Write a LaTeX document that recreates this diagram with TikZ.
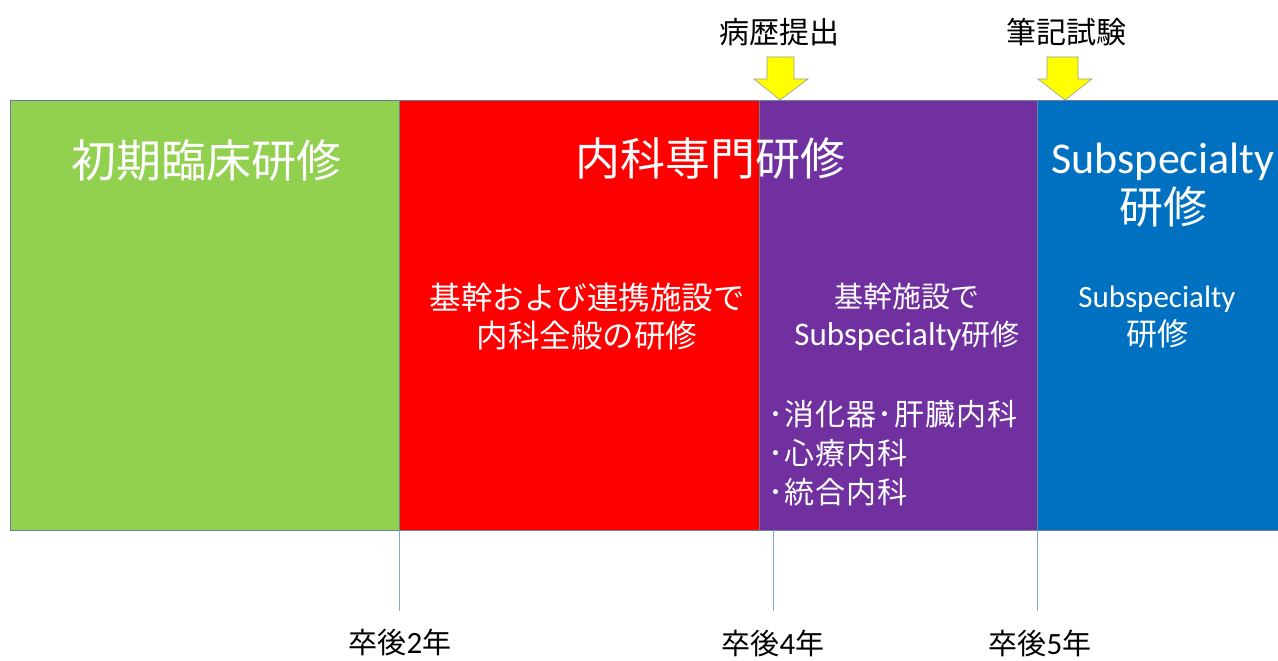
\documentclass[tikz,border=0pt]{standalone}
\usepackage{fontspec}
\setmainfont{Noto Sans CJK JP}
\newfontfamily\lat{Carlito}
\definecolor{cgreen}{HTML}{92D050}
\definecolor{cred}{HTML}{FF0000}
\definecolor{cpurple}{HTML}{7030A0}
\definecolor{cblue}{HTML}{0070C0}
\definecolor{cedge}{HTML}{6A7F9A}
\definecolor{ctick}{HTML}{7FA8D0}
\definecolor{cyel}{HTML}{FFFF00}
\tikzset{
  bar/.style={draw=cedge, line width=0.8pt, anchor=north west, inner sep=0pt, minimum height=430pt},
  wt/.style={text=white, inner sep=0pt, align=center},
  bt/.style={text=black, inner sep=0pt, align=center},
  tickline/.style={draw=ctick, line width=0.9pt},
  yarrow/.style={fill=cyel, draw=gray!80, line width=0.6pt, line join=miter},
}
\newcommand\fs[2]{\fontsize{#1}{#2}\selectfont}
\begin{document}
\begin{tikzpicture}[x=1pt,y=-1pt]
\useasboundingbox (0,0) rectangle (1278,661);
% bars
\node[bar, fill=cgreen, minimum width=389pt] (gbar) at (10,100) {};
\node[bar, fill=cred, minimum width=360pt] (rbar) at (399,100) {};
\node[bar, fill=cpurple, minimum width=278pt] (pbar) at (759,100) {};
\node[bar, fill=cblue, minimum width=250pt] (bbar) at (1037,100) {};
% main titles
\node[wt, font=\fs{45}{50}] (t1) at (206,160) {初期臨床研修};
\node[wt, font=\fs{45}{50}] (t2) at (710,158) {内科専門研修};
\node[wt, font=\fs{44}{50}] (t3) at (1163,185) {{\lat Subspecialty}\\研修};
% inner texts
\node[wt, font=\fs{31.5}{38}] (r1) at (587,317) {基幹および連携施設で\\内科全般の研修};
\node[wt, font=\fs{29}{38}] (p1) at (907,317) {基幹施設で\\{\lat\fs{33}{38}Subspecialty}研修};
\node[wt, align=left, anchor=west, font=\fs{30}{39}\addfontfeature{LetterSpace=4}] (p2) at (768,453) {･消化器･肝臓内科\\･心療内科\\･統合内科};
\node[wt, font=\fs{31}{38}] (b1) at (1157,317) {{\lat Subspecialty}\\研修};
% top labels
\node[bt, font=\fs{30}{36}] (lab1) at (779,32) {病歴提出};
\node[bt, font=\fs{30}{36}] (lab2) at (1066,32) {筆記試験};
% yellow arrows
\draw[yarrow] (767,57) -- (794,57) -- (794,79) -- (808,79) -- (780,100) -- (754,79) -- (767,79) -- cycle;
\draw[yarrow] (1047,57) -- (1078,57) -- (1078,79) -- (1092,79) -- (1065,100) -- (1038,79) -- (1047,79) -- cycle;
% ticks
\coordinate (k1a) at (399,530); \coordinate (k1b) at (399,611);
\coordinate (k2a) at (773,530); \coordinate (k2b) at (773,611);
\coordinate (k3a) at (1037,530); \coordinate (k3b) at (1037,611);
\draw[tickline] (k1a) -- (k1b);
\draw[tickline] (k2a) -- (k2b);
\draw[tickline] (k3a) -- (k3b);
% bottom labels
\node[bt, font=\fs{29}{34}] (y2) at (400,642) {卒後{\lat\fs{31}{34}2}年};
\node[bt, font=\fs{29}{34}] (y4) at (773,643) {卒後{\lat\fs{31}{34}4}年};
\node[bt, font=\fs{29}{34}] (y5) at (1040,643) {卒後{\lat\fs{31}{34}5}年};
\end{tikzpicture}
\end{document}
